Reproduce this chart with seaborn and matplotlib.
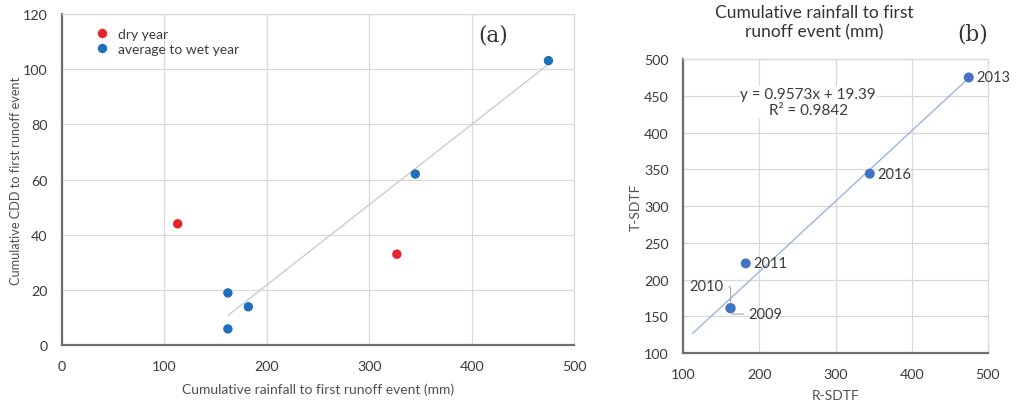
import numpy as np
import pandas as pd
import matplotlib
matplotlib.use("Agg")
import matplotlib.pyplot as plt
import seaborn as sns

# Panel (a): cumulative rainfall vs cumulative CDD to first runoff event
rain_a = [113, 327, 162, 182, 162, 345, 475]
cdd_a = [44, 33, 19, 14, 6, 62, 103]
year_type = ["dry year", "dry year", "average to wet year", "average to wet year",
             "average to wet year", "average to wet year", "average to wet year"]

# Panel (b): R-SDTF vs T-SDTF by year
years_b = ["2009", "2010", "2011", "2016", "2013"]
r_sdtf = [162, 162, 182, 345, 475]
t_sdtf = [161, 161, 222, 344, 475]
slope_b = 0.9573
intercept_b = 19.39
r2_b = 0.9842
trend_x_b = [112, 475]

sns.set_theme(style="white")
plt.rcParams["font.family"] = ["Lato", "DejaVu Sans"]

text_col = "#505050"
tick_col = "#3C3C3C"
grid_col = "#D9D9D9"
spine_col = "#6E6E6E"

fig = plt.figure(figsize=(10.16, 4.06), dpi=100)
ax_a = fig.add_axes([0.061, 0.1466, 0.504, 0.8174])
ax_b = fig.add_axes([0.6726, 0.128, 0.2996, 0.724])

df_a = pd.DataFrame({"rain": rain_a, "cdd": cdd_a, "type": year_type})
df_wet = df_a[df_a["type"] == "average to wet year"]

# trend line over the average-to-wet years
sns.regplot(data=df_wet, x="rain", y="cdd", ax=ax_a, scatter=False, ci=None,
            truncate=True, line_kws=dict(color="#C8C8C8", lw=0.9))
sns.scatterplot(data=df_a, x="rain", y="cdd", hue="type", ax=ax_a,
                hue_order=["dry year", "average to wet year"],
                palette={"dry year": "#E8242B", "average to wet year": "#1E6FBF"},
                s=46, edgecolor="none", zorder=3)

ax_a.set_xlim(0, 500)
ax_a.set_ylim(0, 120)
ax_a.set_xticks(np.arange(0, 501, 100))
ax_a.set_yticks(np.arange(0, 121, 20))
ax_a.set_xlabel("Cumulative rainfall to first runoff event (mm)", fontsize=10,
                color=text_col, labelpad=7.5)
ax_a.set_ylabel("Cumulative CDD to first runoff event", fontsize=9.2,
                color=text_col, labelpad=0.5)
ax_a.legend(loc="upper left", bbox_to_anchor=(0.041, 0.995), frameon=False,
            fontsize=10, handlelength=1.0, handletextpad=0.6, labelspacing=0.2,
            markerscale=1.0, labelcolor=tick_col)
ax_a.text(0.872, 0.97, "(a)", transform=ax_a.transAxes, fontsize=15.5,
          family=["DejaVu Serif"], color="#333333", ha="right", va="top")

# Panel (b)
df_b = pd.DataFrame({"r": r_sdtf, "t": t_sdtf, "year": years_b})
tx = np.array(trend_x_b, dtype=float)
ax_b.plot(tx, slope_b * tx + intercept_b, color="#8FB0E0", lw=0.9, zorder=2)
sns.scatterplot(data=df_b, x="r", y="t", ax=ax_b, color="#4472C4", s=52,
                edgecolor="none", zorder=3, legend=False)

ax_b.set_xlim(100, 500)
ax_b.set_ylim(100, 500)
ax_b.set_xticks(np.arange(100, 501, 100))
ax_b.set_yticks(np.arange(100, 501, 50))
ax_b.set_xlabel("R-SDTF", fontsize=10, color=text_col, labelpad=6.5)
ax_b.set_ylabel("T-SDTF", fontsize=10, color=text_col, labelpad=1.5)
ax_b.set_title("Cumulative rainfall to first\nrunoff event (mm)", fontsize=12.5,
               color="#333333", pad=16, linespacing=1.25, x=0.43)
ax_b.text(1.0, 1.088, "(b)", transform=ax_b.transAxes, fontsize=15.5,
          family=["DejaVu Serif"], color="#333333", ha="right", va="center")

ax_b.text(0.41, 0.854, f"y = {slope_b}x + {intercept_b}\nR² = {r2_b}",
          transform=ax_b.transAxes, fontsize=11, color=tick_col, ha="center",
          va="center", linespacing=1.15,
          bbox=dict(facecolor="white", edgecolor="none", pad=0.5), zorder=4)

label_kw = dict(fontsize=10.5, color=tick_col, va="center")
for yr, xv, yv in zip(years_b, r_sdtf, t_sdtf):
    if yr == "2009":
        ax_b.annotate(yr, xy=(xv, yv), xytext=(xv + 23, yv - 8), ha="left",
                      arrowprops=dict(arrowstyle="-", color="#A6A6A6", lw=0.8,
                                      connectionstyle="angle,angleA=0,angleB=90,rad=3",
                                      shrinkA=1, shrinkB=4), **label_kw)
    elif yr == "2010":
        ax_b.annotate(yr, xy=(xv, yv), xytext=(xv - 10, yv + 30), ha="right",
                      arrowprops=dict(arrowstyle="-", color="#A6A6A6", lw=0.8,
                                      connectionstyle="angle,angleA=0,angleB=90,rad=3",
                                      shrinkA=2, shrinkB=5), **label_kw)
    else:
        ax_b.text(xv + 10, yv, yr, ha="left", **label_kw)

for ax in (ax_a, ax_b):
    ax.grid(True, color=grid_col, lw=0.9)
    ax.set_axisbelow(True)
    for side in ("top", "right"):
        ax.spines[side].set_color(grid_col)
        ax.spines[side].set_linewidth(0.9)
    for side in ("left", "bottom"):
        ax.spines[side].set_color(spine_col)
        ax.spines[side].set_linewidth(1.6)
    ax.tick_params(axis="both", labelsize=10.3, colors=tick_col, length=0, pad=10.5)

fig.savefig("out.png", dpi=100, facecolor="white")
